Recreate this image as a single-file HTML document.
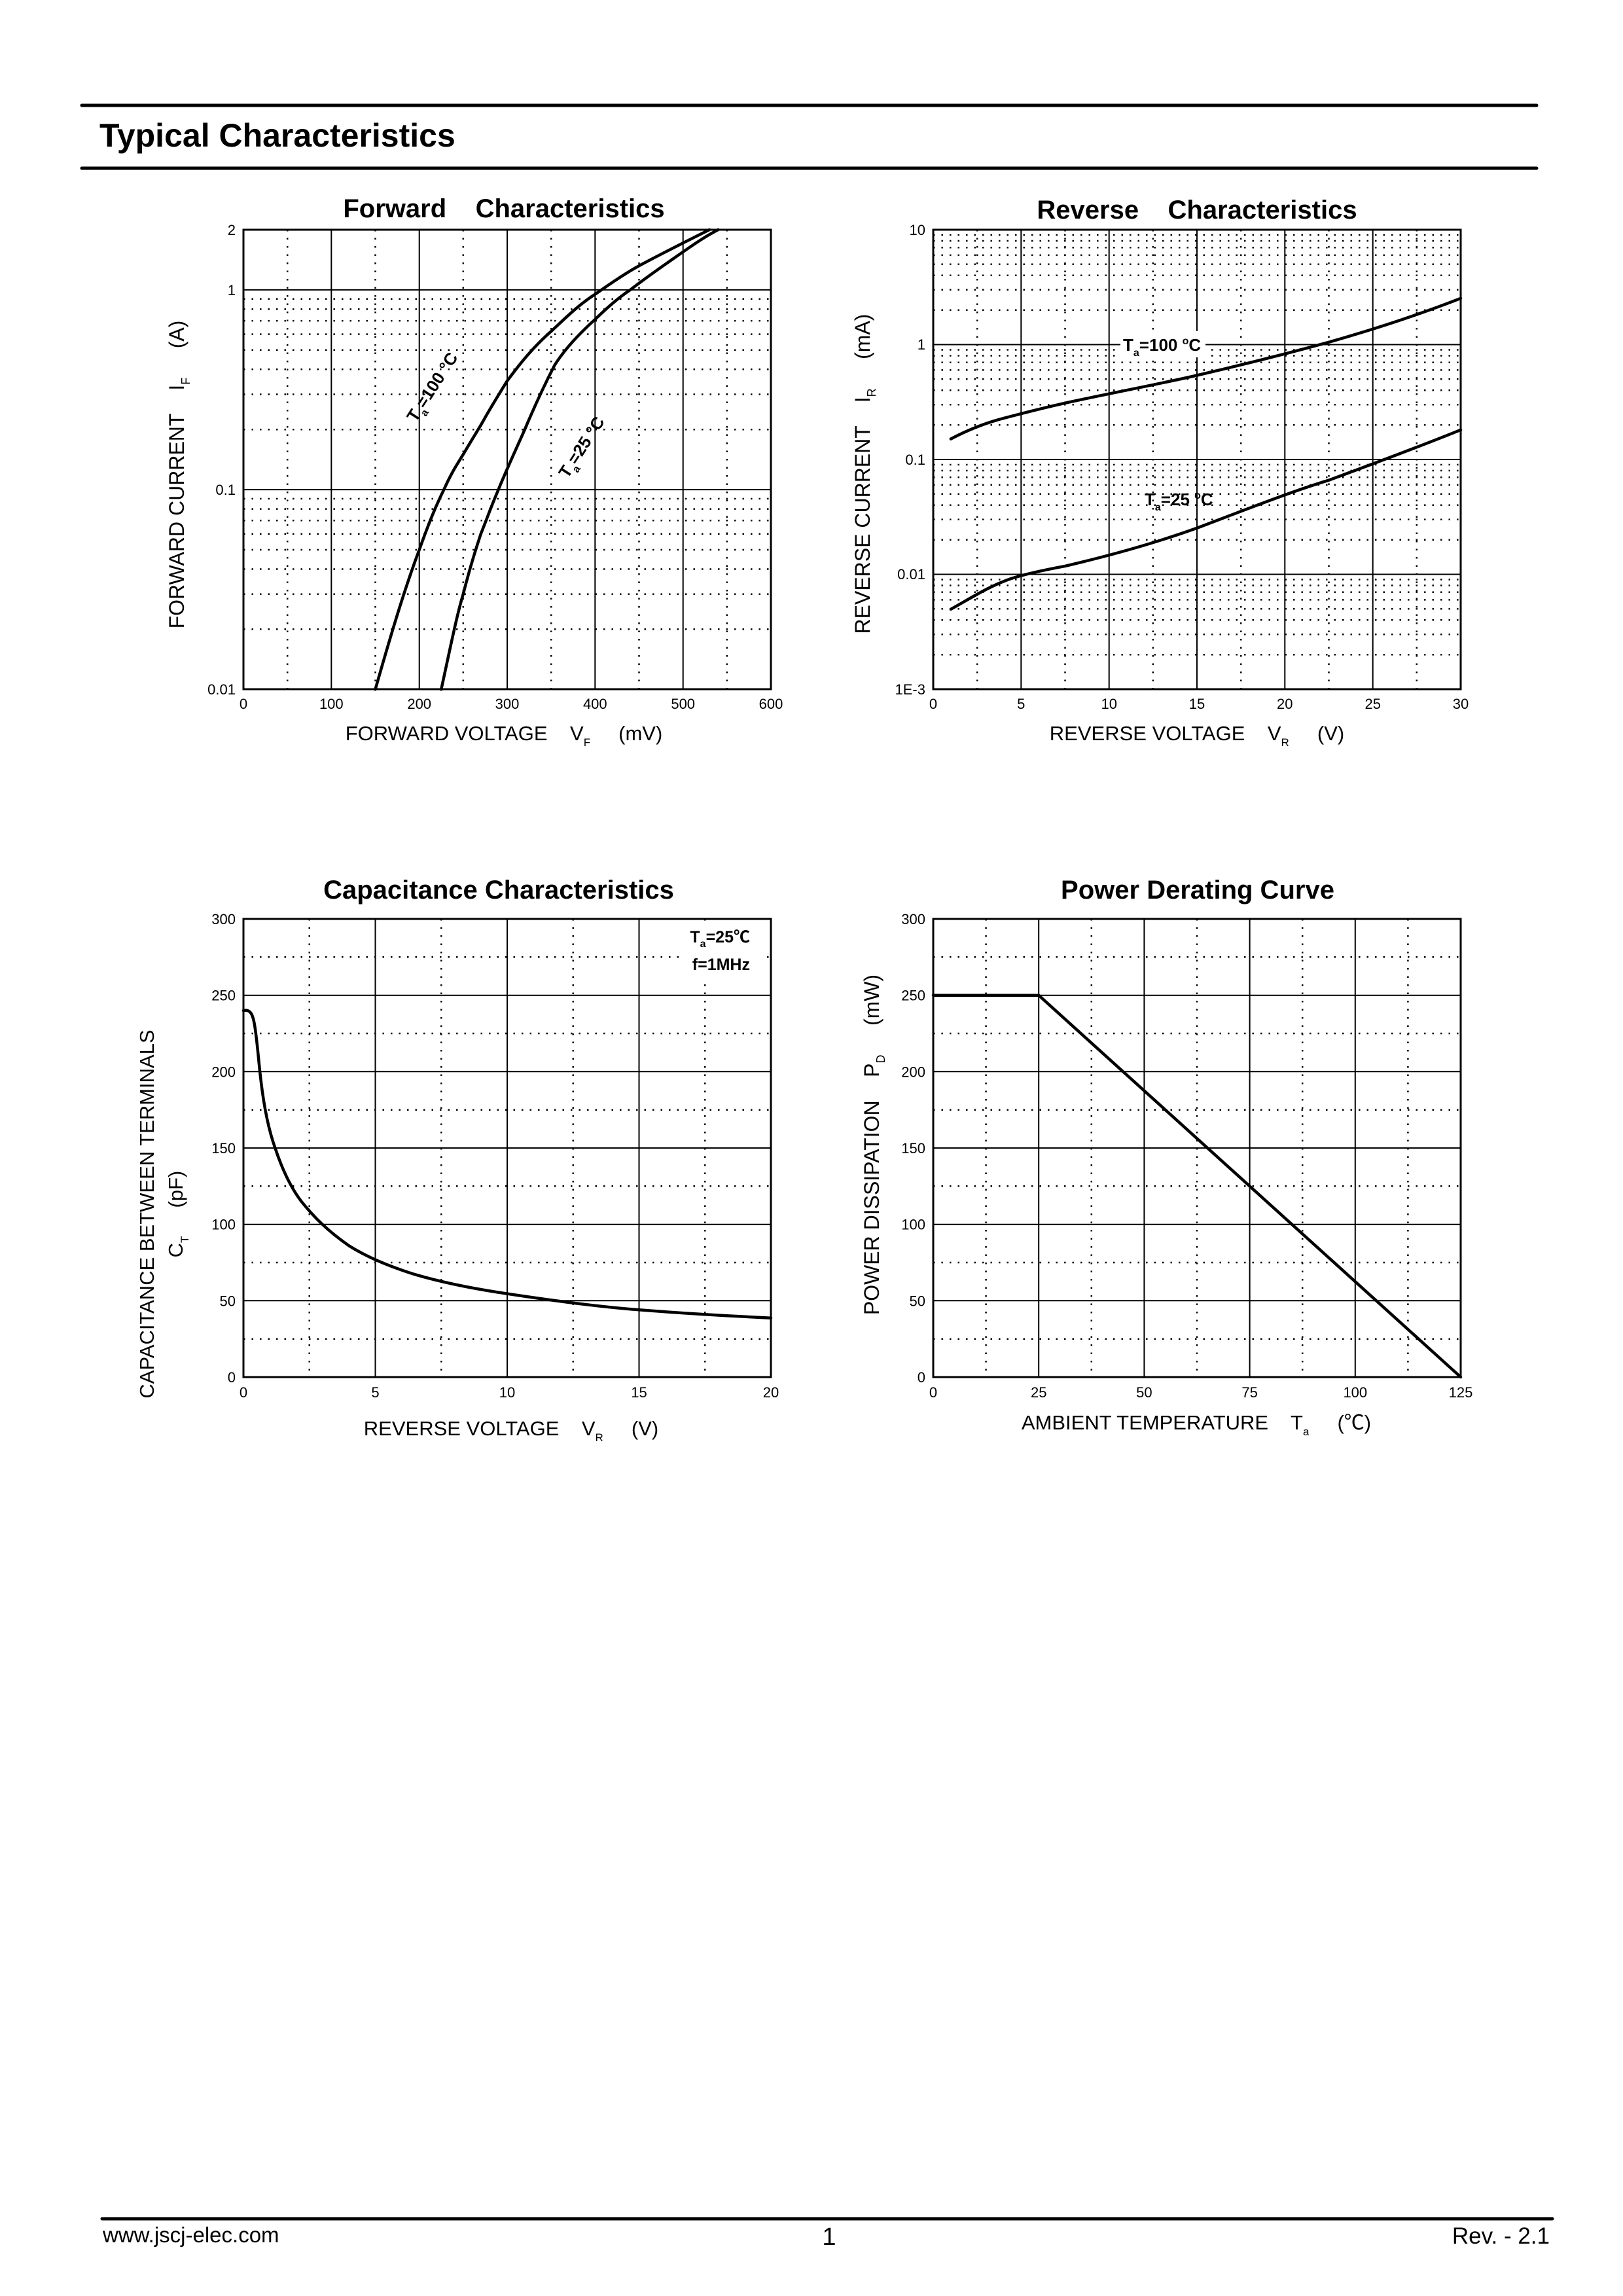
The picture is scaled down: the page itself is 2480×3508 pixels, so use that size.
<!DOCTYPE html>
<html><head><meta charset="utf-8"><style>
html,body{margin:0;padding:0;background:#fff;}
svg{display:block;}
text{font-family:"Liberation Sans",Arial,sans-serif;fill:#000;}
.t{font-size:22px;}
.ax{font-size:31px;}
.ti{font-size:40px;font-weight:bold;}
.g{stroke:#000;stroke-width:2;fill:none;}
.d{stroke:#000;stroke-width:2.5;stroke-dasharray:2.5 10;fill:none;}
.f{stroke:#000;stroke-width:3;fill:none;}
.c{stroke:#000;stroke-width:4.5;fill:none;stroke-linejoin:round;stroke-linecap:round;}
.lb{font-size:26px;font-weight:bold;}
</style></head><body>
<svg width="2480" height="3508" viewBox="0 0 2480 3508" xmlns="http://www.w3.org/2000/svg">
<rect width="2480" height="3508" fill="#fff"/>
<line x1="125" y1="161" x2="2348" y2="161" stroke="#000" stroke-width="5" stroke-linecap="round"/>
<line x1="125" y1="257" x2="2348" y2="257" stroke="#000" stroke-width="5" stroke-linecap="round"/>
<text x="152" y="224" style="font-size:50px;font-weight:bold">Typical Characteristics</text>

<!-- ===== FORWARD ===== -->
<text class="ti" x="770" y="332" text-anchor="middle" xml:space="preserve">Forward    Characteristics</text>
<g>
<path class="d" d="M439.2 351V1053M573.5 351V1053M707.8 351V1053M842.2 351V1053M976.5 351V1053M1110.8 351V1053"/>
<path class="d" d="M372 961.4H1178M372 907.7H1178M372 869.5H1178M372 840H1178M372 815.8H1178M372 795.3H1178M372 777.6H1178M372 762H1178M372 656.2H1178M372 602.5H1178M372 564.3H1178M372 534.8H1178M372 510.6H1178M372 490.1H1178M372 472.4H1178M372 456.8H1178"/>
<path class="g" d="M506.3 351V1053M640.7 351V1053M775 351V1053M909.3 351V1053M1043.7 351V1053M372 748.1H1178M372 442.9H1178"/>
<rect class="f" x="372" y="351" width="806" height="702"/>
<path class="c" d="M573.5,1053.3 C600,960 620,895 640.7,840 C655,800 665,775 678.3,748.1 C690,722 698,710 707.8,694.3 C725,665 735,650 741.4,637.7 C755,614 765,598 775,582 C795,555 815,530 842.2,506.2 C865,485 885,465 909.3,449.7 C940,428 960,415 976.5,406.1 C1010,388 1050,368 1084,351"/>
<path class="c" d="M674.2,1053.3 C688,990 698,940 707.8,907.7 C716,875 725,845 734.7,815.8 C745,790 752,770 761.6,748.1 C772,722 790,683 801.9,656.2 C815,625 830,592 847.5,557.9 C862,535 885,510 909.3,488 C930,468 945,455 963.1,442.9 C990,422 1015,405 1043.7,384.8 C1065,370 1080,360 1097.4,351"/>
<text class="lb" transform="translate(668,596) rotate(-57)" text-anchor="middle">T<tspan dy="8" font-size="16">a</tspan><tspan dy="-8">=100 °C</tspan></text>
<text class="lb" transform="translate(896,688) rotate(-57)" text-anchor="middle">T<tspan dy="8" font-size="16">a</tspan><tspan dy="-8">=25 °C</tspan></text>
<g class="t" text-anchor="end">
<text x="360" y="359">2</text><text x="360" y="451">1</text><text x="360" y="756">0.1</text><text x="360" y="1061">0.01</text>
</g>
<g class="t" text-anchor="middle">
<text x="372" y="1083">0</text><text x="506.3" y="1083">100</text><text x="640.7" y="1083">200</text><text x="775" y="1083">300</text><text x="909.3" y="1083">400</text><text x="1043.7" y="1083">500</text><text x="1178" y="1083">600</text>
</g>
<text class="ax" x="770" y="1131" text-anchor="middle" xml:space="preserve">FORWARD VOLTAGE    V<tspan dy="9" font-size="17">F</tspan><tspan dy="-9">     (mV)</tspan></text>
<text class="ax" transform="translate(281,725) rotate(-90)" text-anchor="middle" style="font-size:32px" xml:space="preserve">FORWARD CURRENT    I<tspan dy="9" font-size="18">F</tspan><tspan dy="-9">     (A)</tspan></text>
</g>

<!-- ===== REVERSE ===== -->
<text class="ti" x="1829" y="334" text-anchor="middle" xml:space="preserve">Reverse    Characteristics</text>
<g>
<path class="d" d="M1493.2 351V1053M1627.5 351V1053M1761.8 351V1053M1896.2 351V1053M2030.5 351V1053M2164.8 351V1053"/>
<path class="d" d="M1426 473.7H2232M1426 442.8H2232M1426 420.8H2232M1426 403.8H2232M1426 389.9H2232M1426 378.2H2232M1426 368H2232M1426 359H2232
M1426 649.2H2232M1426 618.3H2232M1426 596.3H2232M1426 579.3H2232M1426 565.4H2232M1426 553.7H2232M1426 543.5H2232M1426 534.5H2232
M1426 824.7H2232M1426 793.8H2232M1426 771.8H2232M1426 754.8H2232M1426 740.9H2232M1426 729.2H2232M1426 719H2232M1426 710H2232
M1426 1000.2H2232M1426 969.3H2232M1426 947.3H2232M1426 930.3H2232M1426 916.4H2232M1426 904.7H2232M1426 894.5H2232M1426 885.5H2232"/>
<path class="g" d="M1560.3 351V1053M1694.7 351V1053M1829 351V1053M1963.3 351V1053M2097.7 351V1053M1426 526.5H2232M1426 702H2232M1426 877.5H2232"/>
<rect class="f" x="1426" y="351" width="806" height="702"/>
<path class="c" d="M1452.9,670.6 C1475,659 1500,648 1530,640 C1560,632 1600,622 1627.5,615.8 C1700,600 1780,585 1829,573.5 C1900,557 1960,542 2030.5,522.8 C2100,503 2170,480 2232,455.8"/>
<path class="c" d="M1452.9,930.8 C1480,916 1510,896 1545,884 C1570,876 1600,870 1627.5,864.9 C1700,848 1770,828 1829,806.8 C1900,780 1970,752 2030.5,733.7 C2100,708 2170,682 2232,656.8"/>
<rect x="1712" y="506" width="130" height="40" fill="#fff"/>
<text class="lb" x="1716" y="536">T<tspan dy="8" font-size="16">a</tspan><tspan dy="-8">=100 </tspan><tspan dy="-10" font-size="16">o</tspan><tspan dy="10">C</tspan></text>
<text class="lb" x="1749" y="772">T<tspan dy="8" font-size="16">a</tspan><tspan dy="-8">=25 </tspan><tspan dy="-10" font-size="16">o</tspan><tspan dy="10">C</tspan></text>
<g class="t" text-anchor="end">
<text x="1414" y="359">10</text><text x="1414" y="534">1</text><text x="1414" y="710">0.1</text><text x="1414" y="885">0.01</text><text x="1414" y="1061">1E-3</text>
</g>
<g class="t" text-anchor="middle">
<text x="1426" y="1083">0</text><text x="1560.3" y="1083">5</text><text x="1694.7" y="1083">10</text><text x="1829" y="1083">15</text><text x="1963.3" y="1083">20</text><text x="2097.7" y="1083">25</text><text x="2232" y="1083">30</text>
</g>
<text class="ax" x="1829" y="1131" text-anchor="middle" xml:space="preserve">REVERSE VOLTAGE    V<tspan dy="9" font-size="17">R</tspan><tspan dy="-9">     (V)</tspan></text>
<text class="ax" transform="translate(1329,724) rotate(-90)" text-anchor="middle" style="font-size:32px" xml:space="preserve">REVERSE CURRENT    I<tspan dy="9" font-size="18">R</tspan><tspan dy="-9">     (mA)</tspan></text>
</g>

<!-- ===== CAPACITANCE ===== -->
<text class="ti" x="762" y="1373" text-anchor="middle">Capacitance Characteristics</text>
<g>
<path class="d" d="M472.75 1404V2104M674.25 1404V2104M875.75 1404V2104M1077.25 1404V2104"/>
<path class="d" d="M372 2045.7H1178M372 1929H1178M372 1812.3H1178M372 1695.7H1178M372 1579H1178M372 1462.3H1178"/>
<path class="g" d="M573.5 1404V2104M775 1404V2104M976.5 1404V2104M372 1987.3H1178M372 1870.7H1178M372 1754H1178M372 1637.3H1178M372 1520.7H1178"/>
<rect x="1040" y="1412" width="130" height="86" fill="#fff"/>
<rect class="f" x="372" y="1404" width="806" height="700"/>
<path class="c" d="M372,1544 C382,1542 386,1548 389,1566 C393,1590 395,1620 398,1645 C403,1690 410,1725 420.4,1754 C432,1789 445,1815 460,1835 C480,1860 500,1880 533.2,1903.3 C560,1920 590,1933 630,1946 C680,1961 730,1970 775,1976.6 C850,1988 920,1997 976.5,2001.3 C1050,2007 1120,2011 1178,2013.7"/>
<text class="lb" x="1146" y="1440" text-anchor="end" style="font-size:25px">T<tspan dy="7" font-size="16">a</tspan><tspan dy="-7" font-family="'Liberation Sans','Noto Sans CJK SC',sans-serif">=25℃</tspan></text>
<text class="lb" x="1146" y="1482" text-anchor="end" style="font-size:25px">f=1MHz</text>
<g class="t" text-anchor="end">
<text x="360" y="2112">0</text><text x="360" y="1995.3">50</text><text x="360" y="1878.7">100</text><text x="360" y="1762">150</text><text x="360" y="1645.3">200</text><text x="360" y="1528.7">250</text><text x="360" y="1412">300</text>
</g>
<g class="t" text-anchor="middle">
<text x="372" y="2135">0</text><text x="573.5" y="2135">5</text><text x="775" y="2135">10</text><text x="976.5" y="2135">15</text><text x="1178" y="2135">20</text>
</g>
<text class="ax" x="781" y="2193" text-anchor="middle" xml:space="preserve">REVERSE VOLTAGE    V<tspan dy="9" font-size="17">R</tspan><tspan dy="-9">     (V)</tspan></text>
<text class="ax" transform="translate(235,1855) rotate(-90)" text-anchor="middle" style="font-size:31px">CAPACITANCE BETWEEN TERMINALS</text>
<text class="ax" transform="translate(279,1855) rotate(-90)" text-anchor="middle" style="font-size:31px" xml:space="preserve">C<tspan dy="9" font-size="17">T</tspan><tspan dy="-9">     (pF)</tspan></text>
</g>

<!-- ===== POWER ===== -->
<text class="ti" x="1830" y="1373" text-anchor="middle">Power Derating Curve</text>
<g>
<path class="d" d="M1506.6 1404V2104M1667.8 1404V2104M1829 1404V2104M1990.2 1404V2104M2151.4 1404V2104"/>
<path class="d" d="M1426 2045.7H2232M1426 1929H2232M1426 1812.3H2232M1426 1695.7H2232M1426 1579H2232M1426 1462.3H2232"/>
<path class="g" d="M1587.2 1404V2104M1748.4 1404V2104M1909.6 1404V2104M2070.8 1404V2104M1426 1987.3H2232M1426 1870.7H2232M1426 1754H2232M1426 1637.3H2232M1426 1520.7H2232"/>
<rect class="f" x="1426" y="1404" width="806" height="700"/>
<polyline class="c" points="1426,1520.7 1587.2,1520.7 2232,2104"/>
<g class="t" text-anchor="end">
<text x="1414" y="2112">0</text><text x="1414" y="1995.3">50</text><text x="1414" y="1878.7">100</text><text x="1414" y="1762">150</text><text x="1414" y="1645.3">200</text><text x="1414" y="1528.7">250</text><text x="1414" y="1412">300</text>
</g>
<g class="t" text-anchor="middle">
<text x="1426" y="2135">0</text><text x="1587.2" y="2135">25</text><text x="1748.4" y="2135">50</text><text x="1909.6" y="2135">75</text><text x="2070.8" y="2135">100</text><text x="2232" y="2135">125</text>
</g>
<text class="ax" x="1828" y="2184" text-anchor="middle" xml:space="preserve">AMBIENT TEMPERATURE    T<tspan dy="9" font-size="17">a</tspan><tspan dy="-9" font-family="'Liberation Sans','Noto Sans CJK SC',sans-serif">     (℃)</tspan></text>
<text class="ax" transform="translate(1343,1749) rotate(-90)" text-anchor="middle" style="font-size:32px" xml:space="preserve">POWER DISSIPATION    P<tspan dy="9" font-size="18">D</tspan><tspan dy="-9">     (mW)</tspan></text>
</g>

<line x1="156" y1="3390" x2="2372" y2="3390" stroke="#000" stroke-width="5" stroke-linecap="round"/>
<text x="157" y="3426" style="font-size:33px">www.jscj-elec.com</text>
<text x="1267" y="3430" text-anchor="middle" style="font-size:38px">1</text>
<text x="2368" y="3428" text-anchor="end" style="font-size:35px">Rev. - 2.1</text>
</svg>
</body></html>
